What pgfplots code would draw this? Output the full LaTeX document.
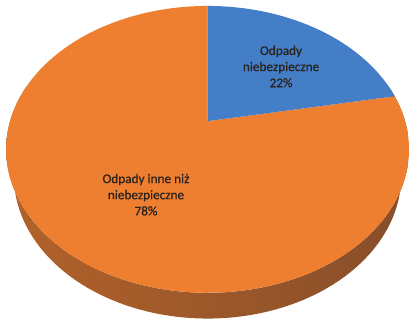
\documentclass[border=0pt]{standalone}
\usepackage{pgfplots}
\pgfplotsset{compat=1.18}
\usepackage{pgfplotstable}
\usepackage{fontspec}
\setmainfont{Carlito}
\newfontfamily\labelfont[FakeBold=0.6]{Carlito}
\definecolor{pieblue}{RGB}{68,126,198}
\definecolor{pieorange}{RGB}{238,127,48}
\definecolor{piesideL}{RGB}{178,98,42}
\definecolor{piesideM}{RGB}{145,82,42}
\definecolor{piesideR}{RGB}{135,78,42}
\definecolor{pietext}{RGB}{42,34,28}
\pgfplotstableread{
name value
hazardous 22
other 78
}\piedata
\begin{document}
\begin{tikzpicture}
\pgfplotstablegetelem{0}{value}\of\piedata \let\va\pgfplotsretval
\pgfplotstablegetelem{1}{value}\of\piedata \let\vb\pgfplotsretval
\pgfmathsetmacro{\total}{\va+\vb}
\pgfmathsetmacro{\aA}{90}
\pgfmathsetmacro{\aB}{90-\va/\total*360}
\pgfmathsetmacro{\aC}{\aB-\vb/\total*360}
\begin{axis}[
  width=409bp, height=326bp, scale only axis,
  xmin=0, xmax=409, ymin=0, ymax=326,
  hide axis, clip=false,
  declare function={
    den(\t,\w)=3.64+0.716*sin(\t)-0.698*\w;
    px(\t,\w)=209+724*cos(\t)/den(\t,\w);
    py(\t,\w)=204+724*(0.698*sin(\t)+0.716*\w)/den(\t,\w);
    st(\s)=(\s<=1)*(165+210*\s)+(\s>1)*(375-210*(\s-1));
    sw(\s)=(\s>1)*(-0.2);
  },
]
\path (rel axis cs:0,0) rectangle (rel axis cs:1,1);
% side wall
\addplot[draw=none, left color=piesideL, middle color=piesideM, right color=piesideR,
  domain=0:2, samples=201]
  ({px(st(x),sw(x))},{py(st(x),sw(x))}) -- cycle;
% orange slice
\addplot[fill=pieorange, draw=none, domain=\aC:\aB, samples=120]
  ({px(x,0)},{py(x,0)}) -- (axis cs:209,204) -- cycle;
% blue slice
\addplot[fill=pieblue, draw=none, domain=\aB:\aA, samples=60]
  ({px(x,0)},{py(x,0)}) -- (axis cs:209,204) -- cycle;
\node[align=center, text=pietext, font=\labelfont\fontsize{13.4}{16.3}\selectfont]
  at (axis cs:283,259) {Odpady\\niebezpieczne\\22\%};
\node[align=center, text=pietext, font=\labelfont\fontsize{13.4}{16.3}\selectfont]
  at (axis cs:147,130) {Odpady inne niż\\niebezpieczne\\78\%};
\end{axis}
\end{tikzpicture}
\end{document}
